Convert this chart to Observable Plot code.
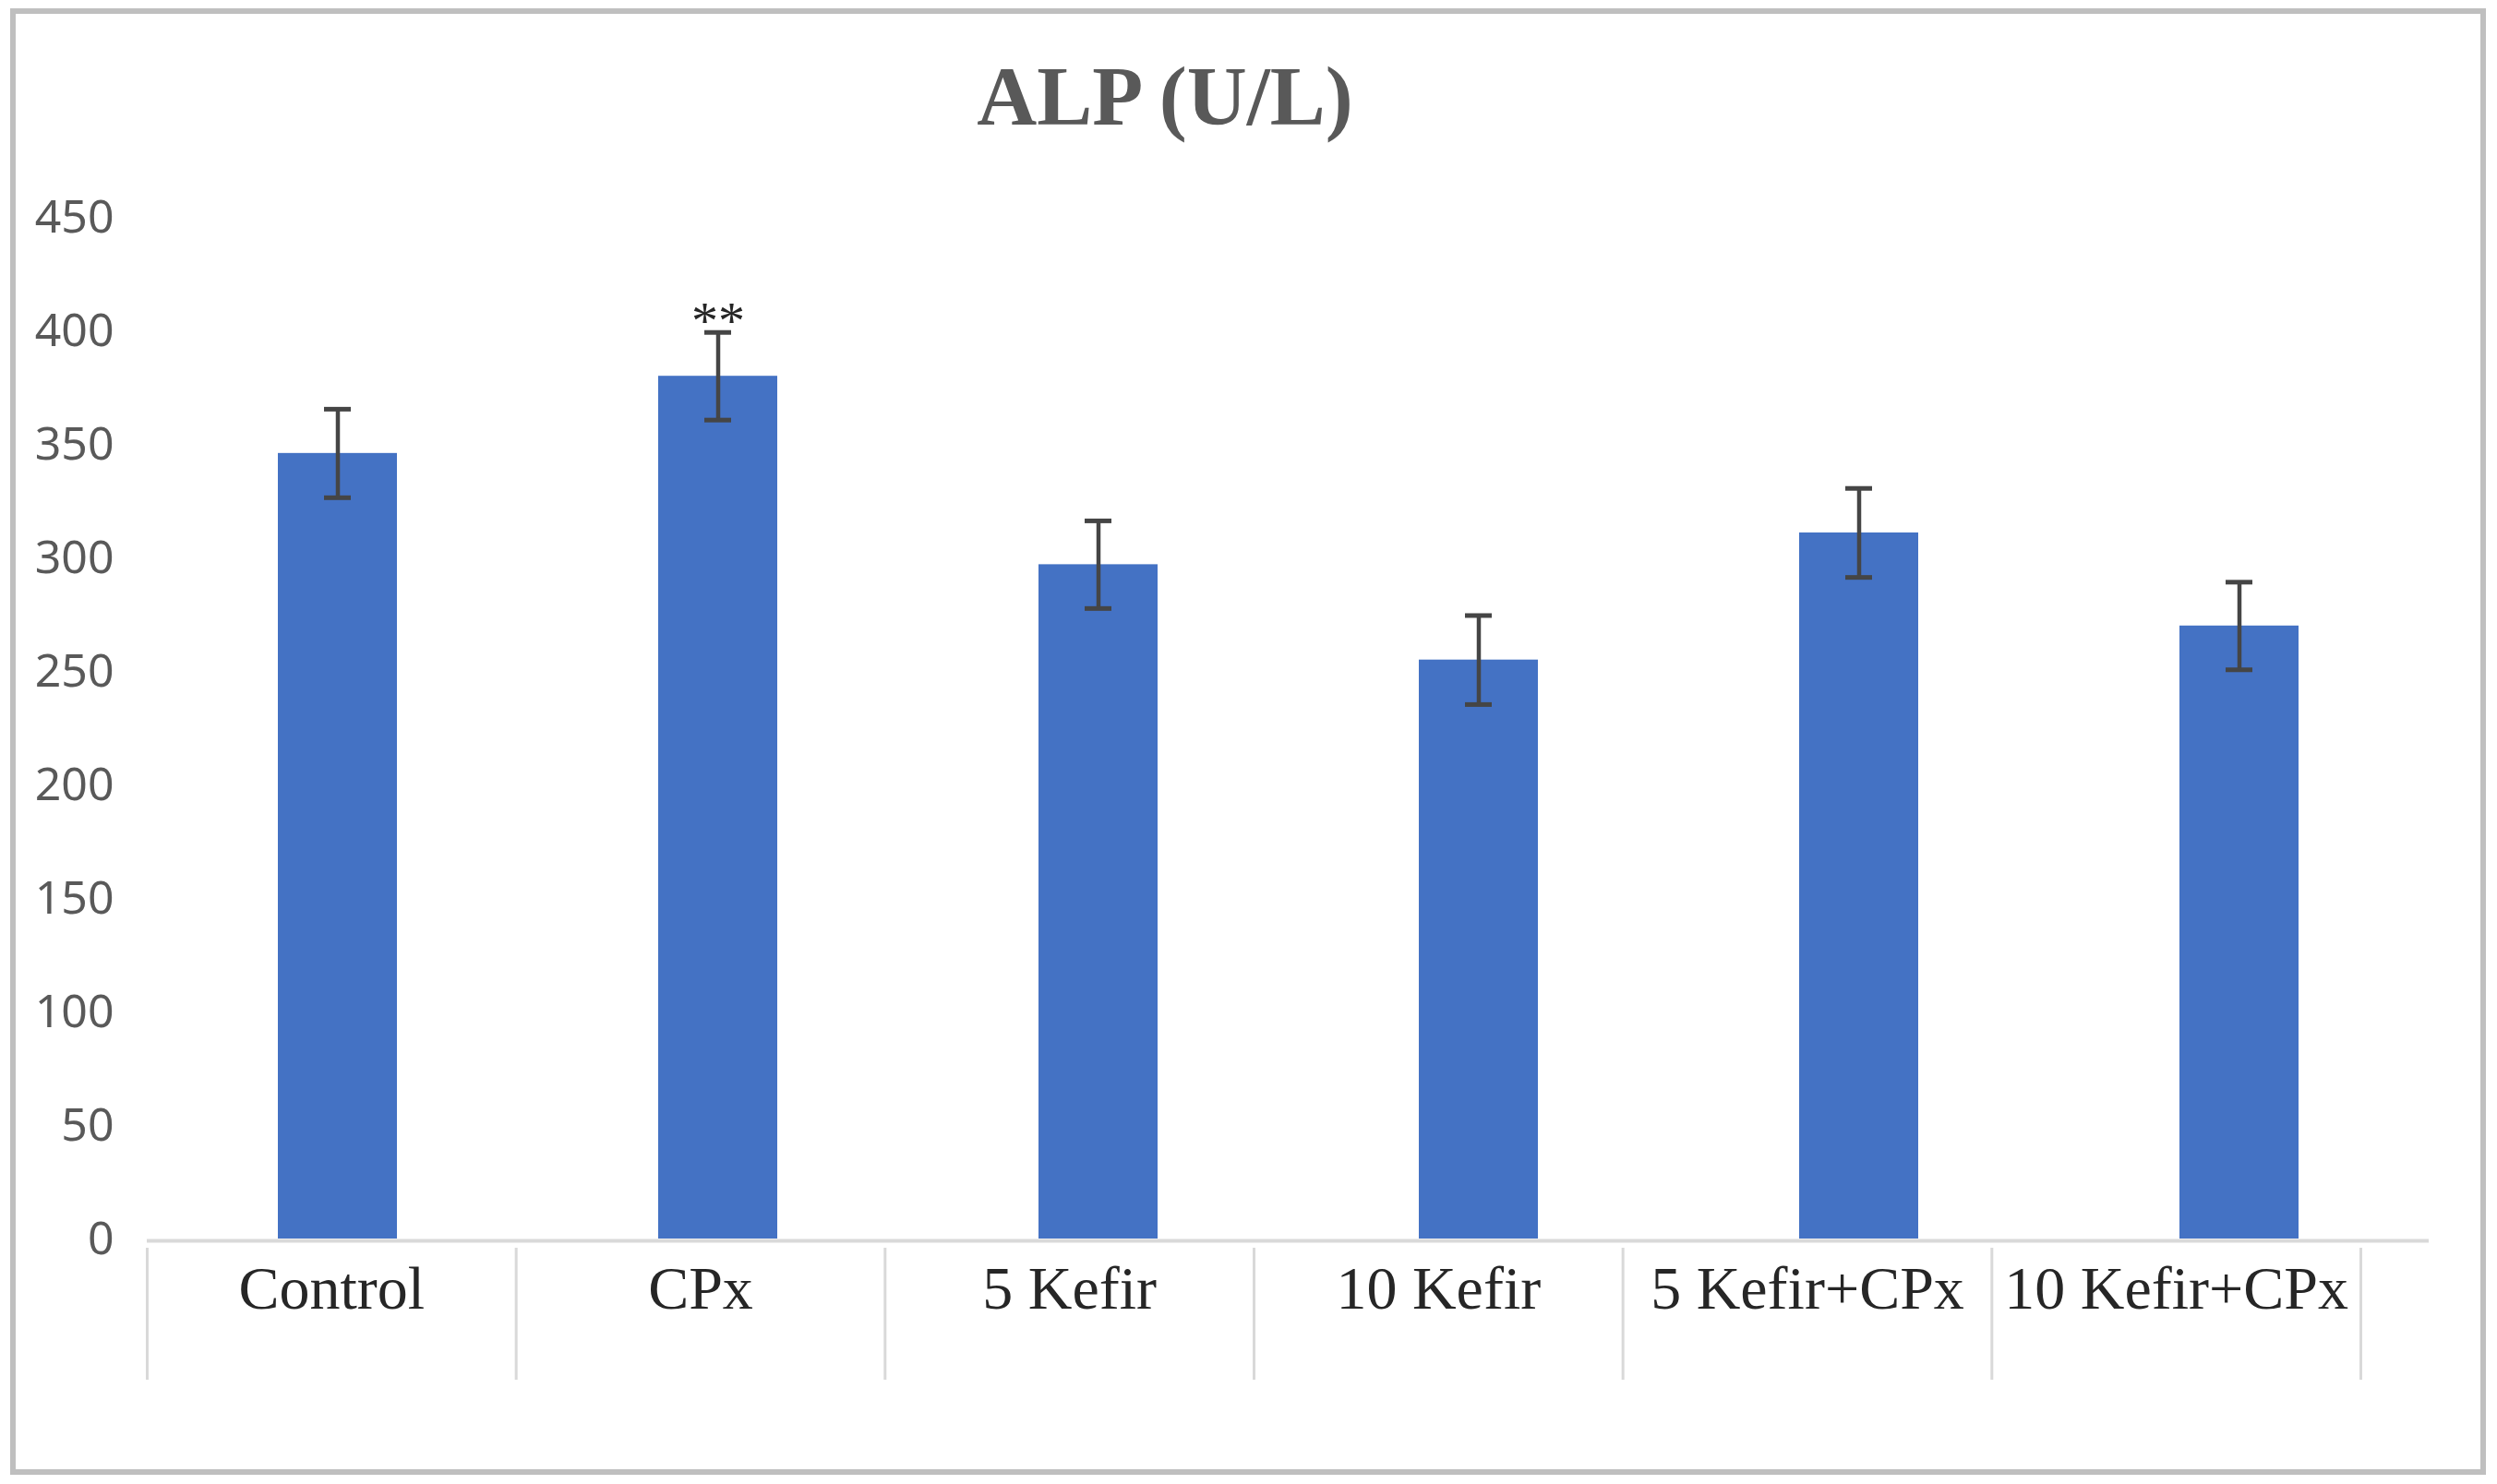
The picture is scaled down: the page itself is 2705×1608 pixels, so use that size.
<!DOCTYPE html>
<html><head><meta charset="utf-8">
<script src="https://cdn.jsdelivr.net/npm/d3@7"></script>
<script src="https://cdn.jsdelivr.net/npm/@observablehq/plot@0.6"></script>
<style>
html,body{margin:0;padding:0;background:#fff;}
#wrap{position:relative;width:2705px;height:1608px;overflow:hidden;background:#fff;}
#frame{position:absolute;left:11px;top:9px;width:2682px;height:1589px;box-sizing:border-box;border:6px solid #bfbfbf;}
#title{position:absolute;left:0;top:60px;width:2524px;text-align:center;font:bold 90px/90px "Liberation Serif",serif;color:#595959;white-space:nowrap;}
.layer{position:absolute;left:0;top:0;}
</style></head><body>
<div id="wrap"><div id="frame"></div><div id="title">ALP (U/L)</div><div id="bars" class="layer"></div><div id="labels" class="layer"></div></div>
<script>
const groups = ["Control", "CPx", "5 Kefir", "10 Kefir", "5 Kefir+CPx", "10 Kefir+CPx"];
const means = [346, 380, 297, 255, 311, 270];
const errors = [19.5, 19.3, 19.3, 19.6, 19.6, 19.3];
const sigMarks = ["", "**", "", "", "", ""];
const yTicks = [0, 50, 100, 150, 200, 250, 300, 350, 400, 450];

const data = groups.map((g, i) => ({group: g, mean: means[i], err: errors[i], sig: sigMarks[i]}));

const chart = Plot.plot({
  width: 2705, height: 1608,
  marginLeft: 159, marginRight: 74, marginTop: 235, marginBottom: 266,
  style: {background: "transparent", color: "#595959", fontFamily: "Noto Sans", overflow: "visible"},
  x: {domain: groups, paddingInner: 0.688, paddingOuter: 0.344, axis: null},
  y: {domain: [0, 450], axis: null},
  marks: [
    Plot.axisY(yTicks, {label: null, tickSize: 0, tickPadding: 36, fontSize: 50, fontFamily: "Noto Sans", fill: "#595959", tickFormat: d => String(d)}),
    Plot.barY(data, {x: "group", y: "mean", fill: "#4472c4"}),
    Plot.ruleY([0], {stroke: "#d9d9d9", strokeWidth: 4, dy: 2}),
    Plot.ruleX(data, {x: "group", y1: d => d.mean - d.err, y2: d => d.mean + d.err, stroke: "#454545", strokeWidth: 4.5}),
    Plot.tickY(data, {x: "group", y: d => d.mean + d.err, stroke: "#454545", strokeWidth: 5, insetLeft: 50, insetRight: 50}),
    Plot.tickY(data, {x: "group", y: d => d.mean - d.err, stroke: "#454545", strokeWidth: 5, insetLeft: 50, insetRight: 50}),
    Plot.text(data.filter(d => d.sig), {x: "group", y: d => d.mean + d.err, text: "sig", fontFamily: "Liberation Serif", fontSize: 58, fill: "#262626", dy: -12})
  ]
});
document.getElementById("bars").appendChild(chart);

const dividers = d3.range(groups.length + 1);
const labelsPlot = Plot.plot({
  width: 2705, height: 1608,
  marginLeft: 159, marginRight: 148, marginTop: 1352, marginBottom: 113,
  style: {background: "transparent", overflow: "visible"},
  x: {domain: [0, groups.length], axis: null},
  marks: [
    Plot.ruleX(dividers, {x: d => d, stroke: "#d9d9d9", strokeWidth: 3}),
    Plot.text(groups, {x: (d, i) => i + 0.5, text: d => d, frameAnchor: "top", lineAnchor: "top", dy: 19, fontFamily: "Liberation Serif", fontSize: 66, fill: "#262626"})
  ]
});
document.getElementById("labels").appendChild(labelsPlot);
</script>
</body></html>
